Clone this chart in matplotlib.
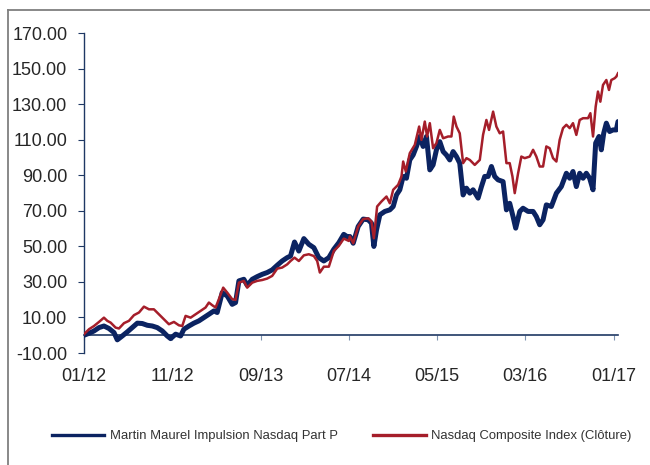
import matplotlib
matplotlib.use("Agg")
import matplotlib.pyplot as plt
from matplotlib.lines import Line2D

plt.rcParams['font.family'] = ['Liberation Sans', 'DejaVu Sans']

# months since 01/2012
fund_months = [0, 0.57, 1.13, 1.70, 2.26, 2.83, 3.40, 3.77, 4.34, 4.91, 5.47, 6.04, 6.60, 7.17,
               7.74, 8.30, 8.87, 9.43, 9.81, 10.38, 10.94, 11.32, 11.89, 12.45, 13.02, 13.58,
               14.15, 14.72, 15.09, 15.66, 16.23, 16.79, 17.17, 17.55, 18.11, 18.49, 19.06,
               19.62, 20.19, 20.75, 21.32, 21.89, 22.45, 23.02, 23.40, 23.85, 24.34, 24.91,
               25.47, 26.04, 26.60, 27.17, 27.74, 28.30, 28.87, 29.43, 30.00,
               30.12, 30.50, 31.06, 31.63, 32.20, 32.57, 32.84, 33.14, 33.52, 34.08, 34.65,
               35.03, 35.40, 35.78, 36.16, 36.53, 36.91, 37.29, 37.67, 38.04, 38.42, 38.80,
               39.18, 39.55, 39.93, 40.31, 40.69, 41.06, 41.44, 41.82, 42.20, 42.57, 42.95,
               43.33, 43.71, 44.08, 44.65, 45.03, 45.40, 45.78, 46.16, 46.53, 46.91, 47.48,
               47.86, 48.23, 48.61, 48.91, 49.37, 49.74, 50.31, 50.88, 51.25, 51.63, 52.01,
               52.38, 52.95, 53.52, 54.08, 54.65, 55.03, 55.40, 55.78, 56.16, 56.54, 56.91,
               57.29, 57.67, 57.97, 58.35, 58.61, 58.88, 59.18, 59.55, 59.93, 60.31, 60.50]
fund_values = [0, 1.1, 2.4, 4.3, 5.2, 3.8, 1.5, -2.6, -0.4, 1.9, 4.3, 6.8, 6.6, 5.6,
               5.2, 4.3, 2.4, -0.4, -1.9, 0.6, -0.4, 3.4, 5.2, 6.8, 8.1, 9.9,
               11.8, 13.7, 12.8, 24.0, 22.1, 17.4, 18.4, 30.6, 31.5, 28.1, 31.5,
               33.0, 34.3, 35.3, 36.8, 39.4, 41.8, 43.7, 44.6, 52.5, 47.4, 54.4,
               51.2, 49.3, 43.7, 41.8, 43.7, 48.4, 52.1, 56.8, 54.9,
               55.6, 51.8, 61.2, 65.4, 65.0, 63.1, 50.0, 59.3, 67.8, 69.7, 70.6,
               72.5, 79.0, 81.9, 89.4, 88.4, 98.7, 101.5, 106.3, 111.9, 106.3, 111.9,
               93.1, 95.9, 104.4, 109.0, 103.4, 101.5, 98.7, 103.4, 100.6, 96.9, 79.0,
               82.8, 80.0, 81.9, 77.2, 83.7, 89.4, 89.4, 95.0, 89.4, 87.5, 86.5,
               70.6, 74.3, 66.8, 60.3, 69.7, 71.5, 69.7, 69.7, 66.8, 62.2, 65.0,
               73.4, 72.5, 80.0, 83.7, 91.2, 88.4, 92.2, 83.7, 91.2, 88.4, 91.2,
               88.4, 81.9, 108.2, 111.9, 104.4, 113.7, 119.4, 114.7, 115.6, 115.6, 120.3]

index_months = [0, 0.57, 1.13, 1.70, 2.26, 2.64, 3.02, 3.58, 3.96, 4.53, 5.09, 5.66, 6.23, 6.79,
                7.36, 7.92, 8.49, 9.06, 9.62, 10.19, 10.75, 11.13, 11.51, 12.08, 12.64, 13.21,
                13.77, 14.15, 14.53, 14.91, 15.28, 15.77, 16.23, 16.79, 17.17, 17.55, 18.11,
                18.49, 19.06, 19.62, 20.19, 20.75, 21.32, 21.89, 22.45, 23.02, 23.40, 23.85,
                24.34, 24.91, 25.47, 26.04, 26.42, 26.72, 27.17, 27.74, 28.30, 28.87, 29.43, 30.00,
                30.12, 30.50, 31.06, 31.63, 32.20, 32.57, 32.84, 33.21, 33.70, 34.27, 34.65,
                35.03, 35.59, 35.97, 36.16, 36.46, 36.91, 37.48, 37.97, 38.23, 38.61, 38.87,
                39.18, 39.55, 39.93, 40.31, 40.69, 41.25, 41.63, 41.89, 42.20, 42.57, 42.95,
                43.33, 43.71, 44.27, 44.84, 45.21, 45.59, 45.89, 46.35, 46.72, 47.10, 47.48,
                47.86, 48.23, 48.54, 48.80, 49.18, 49.55, 49.93, 50.50, 50.88, 51.25, 51.63,
                52.01, 52.38, 52.76, 53.14, 53.52, 53.89, 54.27, 54.65, 55.03, 55.40, 55.78,
                56.16, 56.54, 57.10, 57.37, 57.67, 57.97, 58.23, 58.50, 58.80, 59.18, 59.48,
                59.74, 60.12, 60.31, 60.50]
index_values = [0.6, 3.4, 5.2, 7.5, 9.9, 8.1, 7.1, 4.3, 3.8, 6.8, 8.1, 11.3, 12.8, 16.1,
                14.6, 14.6, 11.8, 9.0, 6.2, 7.5, 5.6, 5.2, 10.9, 9.9, 11.8, 13.7,
                15.6, 18.4, 16.9, 15.6, 20.3, 26.8, 24.0, 20.3, 19.9, 29.6, 30.6,
                26.8, 29.6, 30.6, 31.1, 31.9, 33.4, 37.5, 38.1, 39.9, 41.8, 43.7,
                41.8, 45.0, 45.6, 44.6, 41.8, 35.3, 38.6, 38.6, 47.4, 50.3, 54.4, 53.1,
                55.6, 51.8, 61.2, 65.4, 65.8, 64.0, 54.6, 72.5, 75.3, 78.1, 74.3,
                81.9, 84.7, 89.4, 97.8, 92.2, 102.5, 107.2, 117.5, 110.0, 120.3, 111.9,
                119.4, 105.3, 108.2, 115.6, 110.9, 111.9, 111.9, 123.1, 117.5, 113.7, 96.9,
                99.7, 98.7, 95.9, 98.7, 112.8, 121.2, 115.6, 125.9, 117.5, 113.7, 114.7,
                96.9, 96.9, 89.4, 80.0, 91.2, 100.6, 99.7, 100.6, 104.4, 100.6, 95.0,
                95.0, 106.3, 105.3, 99.7, 97.8, 110.0, 116.6, 118.5, 116.6, 119.4, 112.8,
                121.2, 122.2, 122.2, 125.0, 111.9, 128.7, 137.2, 131.5, 140.9, 143.7, 138.1,
                143.7, 144.7, 145.6, 147.5]

tick_months = [0, 10, 20, 30, 40, 50, 60]
tick_labels = ['01/12', '11/12', '09/13', '07/14', '05/15', '03/16', '01/17']
y_ticks = [-10, 10, 30, 50, 70, 90, 110, 130, 150, 170]

series_names = ['Martin Maurel Impulsion Nasdaq Part P', 'Nasdaq Composite Index (Clôture)']
fund_color = '#0B2361'
index_color = '#A51E2A'
axis_color = '#1F3864'
text_color = '#262626'

fig = plt.figure(figsize=(6.5, 4.65), dpi=100)
ax = fig.add_axes([84 / 650, 1 - 353 / 465, (618 - 84) / 650, (353 - 33.3) / 465])

ax.plot(fund_months, fund_values, color=fund_color, lw=3.6, solid_joinstyle='round',
        solid_capstyle='round', zorder=3)
ax.plot(index_months, index_values, color=index_color, lw=1.8, solid_joinstyle='round',
        zorder=4)

ax.set_xlim(0, 60.5)
ax.set_ylim(-10, 170)

for s in ['top', 'right']:
    ax.spines[s].set_visible(False)
ax.spines['left'].set_color(axis_color)
ax.spines['left'].set_linewidth(1.0)
ax.spines['bottom'].set_position(('data', 0))
ax.spines['bottom'].set_color(axis_color)
ax.spines['bottom'].set_linewidth(1.2)

ax.set_yticks(y_ticks)
ax.set_yticklabels([f'{v:.2f}' for v in y_ticks])
ax.set_xticks(tick_months)
ax.set_xticklabels(tick_labels)
ax.tick_params(axis='y', direction='out', length=4, width=0.8, color=axis_color,
               pad=8, labelsize=13, labelcolor=text_color)
ax.tick_params(axis='x', direction='out', length=3.5, width=0.8, color='#7F93B0',
               pad=20, labelsize=13, labelcolor=text_color)

handles = [Line2D([], [], color=fund_color, lw=2.4), Line2D([], [], color=index_color, lw=2.4)]
leg = fig.legend(handles, series_names, loc='center', bbox_to_anchor=(342 / 650, 1 - 436 / 465),
                 ncol=2, frameon=False, fontsize=9.4, handlelength=4.0, handletextpad=0.45,
                 columnspacing=2.7)
for t in leg.get_texts():
    t.set_color('#333333')

# outer frame
fig.add_artist(Line2D([7.5 / 650, 7.5 / 650], [0, 1 - 10 / 465], transform=fig.transFigure,
                      color='#7F7F7F', lw=1.3))
fig.add_artist(Line2D([7.5 / 650, 1], [1 - 10 / 465, 1 - 10 / 465], transform=fig.transFigure,
                      color='#7F7F7F', lw=1.3))

fig.savefig('out.png', dpi=100)
